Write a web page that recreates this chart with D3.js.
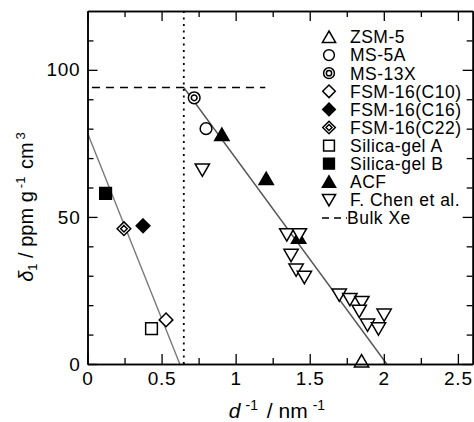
<!DOCTYPE html>
<html>
<head>
<meta charset="utf-8">
<script src="https://cdn.jsdelivr.net/npm/d3@7"></script>
<style>
  html, body { margin: 0; padding: 0; background: #fff; }
  svg { display: block; }
  text { font-family: "Liberation Sans", Arial, Helvetica, sans-serif; fill: #000; }
</style>
</head>
<body>
<svg id="chart" width="474" height="422"></svg>
<script>
// Xe chemical shift δ1 against inverse mean pore size d^-1
const zsm5      = [[1.85, 1]];
const ms5a      = [[0.80, 80]];
const ms13x     = [[0.72, 90.5]];
const fsmC10    = [[0.53, 15]];
const fsmC16    = [[0.375, 47]];
const fsmC22    = [[0.246, 46]];
const silicaA   = [[0.432, 12]];
const silicaB   = [[0.122, 58]];
const acf       = [[0.907, 78], [1.206, 63], [1.425, 43]];
const chen      = [[0.775, 66], [1.345, 44], [1.43, 44], [1.374, 37], [1.408, 32], [1.464, 29.5],
                   [1.699, 23.5], [1.771, 22], [1.852, 21], [1.834, 18], [2.002, 16.7],
                   [1.89, 13.3], [1.964, 12]];
const bulkXe    = 94;
const fitLeft   = [[0, 78.5], [0.623, 0]];
const fitRight  = [[0.65, 94], [2.02, 0]];
const dottedX   = 0.65;
const bulkRange = [0.03, 1.2];

const xMajor = [0, 0.5, 1, 1.5, 2, 2.5];
const xMinor = [0.25, 0.75, 1.25, 1.75, 2.25];
const yMajor = [0, 50, 100];
const yMinor = [10, 20, 30, 40, 60, 70, 80, 90, 110];

const legendNames = ["ZSM-5", "MS-5A", "MS-13X", "FSM-16(C10)", "FSM-16(C16)", "FSM-16(C22)",
                     "Silica-gel A", "Silica-gel B", "ACF", "F. Chen et al.", "Bulk Xe"];

const svg = d3.select("#chart");
const x = d3.scaleLinear().domain([0, 2.6]).range([87.5, 472.7]);
const y = d3.scaleLinear().domain([0, 120]).range([364, 11]);

// marker path generators, centred on (0,0)
const shapes = {
  triUp:   s => `M0,${-s*0.5}L${s*0.55},${s*0.45}L${-s*0.55},${s*0.45}Z`,
  triDown: s => `M0,${s*0.5}L${s*0.55},${-s*0.45}L${-s*0.55},${-s*0.45}Z`,
  square:  s => `M${-s/2},${-s/2}h${s}v${s}h${-s}Z`,
  diamond: s => `M0,${-s/2}L${s/2},0L0,${s/2}L${-s/2},0Z`
};

const series = [
  { name: legendNames[0], data: zsm5,    kind: "triUp",   fill: "#fff" },
  { name: legendNames[1], data: ms5a,    kind: "circle",  fill: "#fff" },
  { name: legendNames[2], data: ms13x,   kind: "dcircle", fill: "#fff" },
  { name: legendNames[3], data: fsmC10,  kind: "diamond", fill: "#fff" },
  { name: legendNames[4], data: fsmC16,  kind: "diamond", fill: "#000" },
  { name: legendNames[5], data: fsmC22,  kind: "ddiamond",fill: "#fff" },
  { name: legendNames[6], data: silicaA, kind: "square",  fill: "#fff" },
  { name: legendNames[7], data: silicaB, kind: "square",  fill: "#000" },
  { name: legendNames[8], data: acf,     kind: "triUp",   fill: "#000" },
  { name: legendNames[9], data: chen,    kind: "triDown", fill: "#fff" }
];

function drawMarker(g, kind, fill, size) {
  const sw = 1.5;
  if (kind === "circle") {
    g.append("circle").attr("r", size * 0.45).attr("fill", fill).attr("stroke", "#000").attr("stroke-width", sw);
  } else if (kind === "dcircle") {
    g.append("circle").attr("r", size * 0.45).attr("fill", "#fff").attr("stroke", "#000").attr("stroke-width", sw);
    g.append("circle").attr("r", size * 0.22).attr("fill", "#fff").attr("stroke", "#000").attr("stroke-width", sw);
  } else if (kind === "ddiamond") {
    g.append("path").attr("d", shapes.diamond(size * 1.05)).attr("fill", "#fff").attr("stroke", "#000").attr("stroke-width", sw);
    g.append("path").attr("d", shapes.diamond(size * 0.5)).attr("fill", "#fff").attr("stroke", "#000").attr("stroke-width", sw);
  } else {
    const s = kind === "diamond" ? size * 1.05 : (kind === "square" ? size * 0.9 : size);
    g.append("path").attr("d", shapes[kind](s)).attr("fill", fill).attr("stroke", "#000")
      .attr("stroke-width", sw).attr("stroke-linejoin", "miter");
  }
}

// reference lines
const line = d3.line().x(d => x(d[0])).y(d => y(d[1]));
svg.append("path").attr("d", line(fitLeft)).attr("fill", "none").attr("stroke", "#7a7a7a").attr("stroke-width", 1.4);
svg.append("path").attr("d", line(fitRight)).attr("fill", "none").attr("stroke", "#555").attr("stroke-width", 1.4);
svg.append("line")
  .attr("x1", x(dottedX)).attr("x2", x(dottedX)).attr("y1", y(120)).attr("y2", y(0))
  .attr("stroke", "#000").attr("stroke-width", 1.8).attr("stroke-dasharray", "2,4.5");
svg.append("line")
  .attr("x1", x(bulkRange[0])).attr("x2", x(bulkRange[1])).attr("y1", y(bulkXe)).attr("y2", y(bulkXe))
  .attr("stroke", "#000").attr("stroke-width", 1.5).attr("stroke-dasharray", "8,6");

// data markers
series.forEach(s => {
  s.data.forEach(p => {
    const g = svg.append("g").attr("transform", `translate(${x(p[0])},${y(p[1])})`);
    drawMarker(g, s.kind, s.fill, 13);
  });
});

// axes: ticks point inward on all four sides
function styleAxis(g) {
  g.selectAll("path.domain").attr("stroke", "#000").attr("stroke-width", 1.5);
  g.selectAll(".tick line").attr("stroke", "#000").attr("stroke-width", 1.3);
  g.selectAll("text").attr("font-size", 19).attr("font-family", "Liberation Sans, Arial, sans-serif")
    .attr("letter-spacing", "0.8px").attr("fill", "#000");
}
const fmt = d => d3.format("")(d);
svg.append("g").attr("transform", `translate(0,${y(0)})`)
  .call(d3.axisBottom(x).tickValues(xMajor).tickSize(-10).tickSizeOuter(0).tickPadding(8).tickFormat(fmt)).call(styleAxis);
svg.append("g").attr("transform", `translate(0,${y(0)})`)
  .call(d3.axisBottom(x).tickValues(xMinor).tickSize(-6).tickSizeOuter(0).tickFormat("")).call(styleAxis);
svg.append("g").attr("transform", `translate(0,${y(120)})`)
  .call(d3.axisTop(x).tickValues(xMajor).tickSize(-10).tickSizeOuter(0).tickFormat("")).call(styleAxis);
svg.append("g").attr("transform", `translate(0,${y(120)})`)
  .call(d3.axisTop(x).tickValues(xMinor).tickSize(-6).tickSizeOuter(0).tickFormat("")).call(styleAxis);
svg.append("g").attr("transform", `translate(${x(0)},0)`)
  .call(d3.axisLeft(y).tickValues(yMajor).tickSize(-10).tickSizeOuter(0).tickPadding(7).tickFormat(fmt)).call(styleAxis);
svg.append("g").attr("transform", `translate(${x(0)},0)`)
  .call(d3.axisLeft(y).tickValues(yMinor).tickSize(-6).tickSizeOuter(0).tickFormat("")).call(styleAxis);
svg.append("g").attr("transform", `translate(${x(2.6)},0)`)
  .call(d3.axisRight(y).tickValues(yMajor).tickSize(-10).tickSizeOuter(0).tickFormat("")).call(styleAxis);
svg.append("g").attr("transform", `translate(${x(2.6)},0)`)
  .call(d3.axisRight(y).tickValues(yMinor).tickSize(-6).tickSizeOuter(0).tickFormat("")).call(styleAxis);

// axis titles
const xt = svg.append("text").attr("x", 277).attr("y", 418).attr("text-anchor", "middle").attr("font-size", 21);
xt.append("tspan").attr("font-style", "italic").text("d");
xt.append("tspan").attr("font-size", 14).attr("dy", -8).attr("dx", 5).text("-1");
xt.append("tspan").attr("dy", 8).attr("dx", 3).text(" / nm");
xt.append("tspan").attr("font-size", 14).attr("dy", -8).attr("dx", 5).text("-1");

const yt = svg.append("text").attr("transform", "translate(33,207) rotate(-90)")
  .attr("text-anchor", "middle").attr("font-size", 20);
yt.append("tspan").attr("font-style", "italic").text("δ");
yt.append("tspan").attr("font-size", 13).attr("dy", 4).text("1");
yt.append("tspan").attr("dy", -4).text(" / ppm g");
yt.append("tspan").attr("font-size", 13).attr("dy", -8).attr("dx", 3).text("-1");
yt.append("tspan").attr("dy", 8).attr("dx", 2).text(" cm");
yt.append("tspan").attr("font-size", 13).attr("dy", -8).attr("dx", 3).text("3");

// legend
const lg = svg.append("g");
const rowY = i => 37 + i * 18.1;
series.forEach((s, i) => {
  const g = lg.append("g").attr("transform", `translate(329,${rowY(i)})`);
  drawMarker(g, s.kind, s.fill, 12);
});
lg.append("line").attr("x1", 322).attr("x2", 347).attr("y1", rowY(10)).attr("y2", rowY(10))
  .attr("stroke", "#000").attr("stroke-width", 1.5).attr("stroke-dasharray", "7,5");
legendNames.forEach((n, i) => {
  lg.append("text").attr("x", i === 10 ? 347 : 350).attr("y", rowY(i)).attr("dy", "0.36em")
    .attr("font-size", 17.5).attr("letter-spacing", "0.5px").text(n);
});
</script>
</body>
</html>
